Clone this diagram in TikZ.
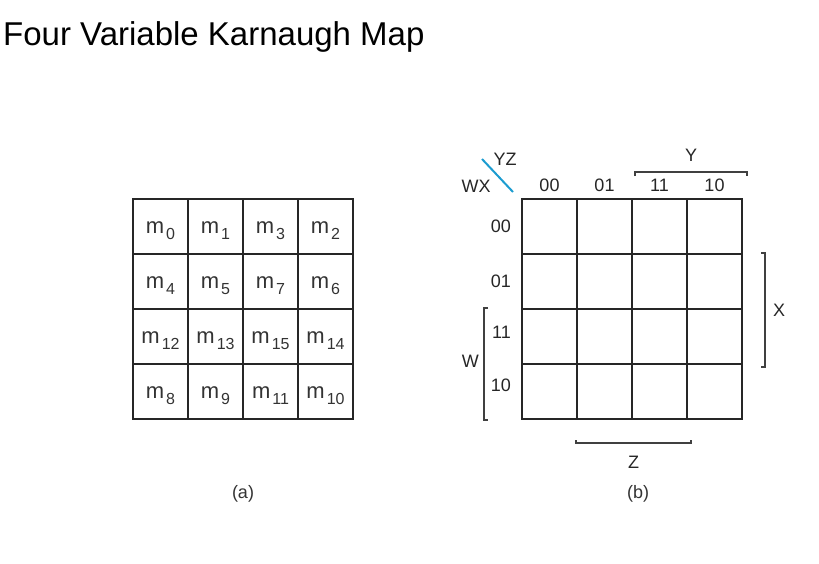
\documentclass[tikz,border=0pt]{standalone}
\usepackage{fontspec}
\setmainfont{Liberation Sans}
\usetikzlibrary{positioning,calc}
\definecolor{kblue}{RGB}{28,156,208}
\tikzset{
  cellbox/.style={draw=black!85,line width=2pt,minimum size=55pt,inner sep=0pt},
  mint/.style={font=\fontsize{22}{24}\selectfont,text=black!80,text height=16pt,text depth=2pt},
  lbl/.style={font=\fontsize{18}{20}\selectfont,inner sep=1pt,text=black!85},
  ttl/.style={font=\fontsize{33}{36}\selectfont,inner sep=0pt},
  capt/.style={font=\fontsize{18}{20}\selectfont,inner sep=1pt,text=black!80},
  brk/.style={draw=black!75,line width=1.3pt},
  diag/.style={draw=kblue,line width=2pt}
}
\newcommand{\mterm}[1]{m\raisebox{-6pt}{\fontsize{16}{16}\selectfont\hspace{2pt}#1}}

\begin{document}
\begin{tikzpicture}[x=1pt,y=-1pt]
  \useasboundingbox (0,0) rectangle (819,563);
  % Title
  \node[ttl, anchor=base west] (title) at (3,45) {Four Variable Karnaugh Map};

  % Minterm map (a)
  \foreach \m [count=\i from 0] in {0,1,3,2,4,5,7,6,12,13,15,14,8,9,11,10} {
    \pgfmathtruncatemacro{\c}{mod(\i,4)}
    \pgfmathtruncatemacro{\r}{div(\i,4)}
    \node[cellbox, mint] (a\i) at (160.5+55*\c, 226.5+55*\r) {\mterm{\m}};
  }
  \node[capt] (capa) at (243,494) {(a)};

  % Variable map (b)
  \foreach \i in {0,...,15} {
    \pgfmathtruncatemacro{\c}{mod(\i,4)}
    \pgfmathtruncatemacro{\r}{div(\i,4)}
    \node[cellbox] (b\i) at (549.5+55*\c, 226.5+55*\r) {};
  }
  \node[capt] (capb) at (638,494) {(b)};

  % Column and row labels
  \foreach \lab [count=\c from 0] in {00,01,11,10}
    \node[lbl, above=5pt of b\c] (col\c) {\lab};
  \node[lbl, left=9pt of b0] (row0) {00};
  \node[lbl, left=9pt of b4] (row1) {01};
  \node[lbl, left=9pt of b8, yshift=4pt] (row2) {11};
  \node[lbl, left=9pt of b12, yshift=6pt] (row3) {10};

  % Corner
  \node[lbl] (yz) at (505,159) {YZ};
  \node[lbl] (wx) at (476,186) {WX};
  \coordinate (d1) at (482,159);
  \coordinate (d2) at (513,192);
  \draw[diag] (d1) -- (d2);

  % Y over last two columns
  \coordinate (y1) at ([yshift=26pt,xshift=4pt]b2.north west);
  \coordinate (y2) at ([yshift=26pt,xshift=4pt]b3.north east);
  \draw[brk] ([yshift=-4pt]y1) -- (y1) -- (y2) -- ([yshift=-4pt]y2);
  \node[lbl, above=9pt] (ylab) at ($(y1)!.5!(y2)$) {Y};

  % X along rows 01 and 11
  \coordinate (x1) at ([xshift=22pt]b7.north east);
  \coordinate (x2) at ([xshift=22pt,yshift=-2pt]b11.south east);
  \draw[brk] ([xshift=-4pt]x1) -- (x1) -- (x2) -- ([xshift=-4pt]x2);
  \node[lbl, right=7pt] (xlab) at ($(x1)!.5!(x2)$) {X};

  % W along rows 11 and 10
  \coordinate (w1) at ([xshift=-37pt]b8.north west);
  \coordinate (w2) at ([xshift=-37pt]b12.south west);
  \draw[brk] ([xshift=4pt]w1) -- (w1) -- (w2) -- ([xshift=4pt]w2);
  \node[lbl, left=4pt, yshift=3pt] (wlab) at ($(w1)!.5!(w2)$) {W};

  % Z under middle columns
  \coordinate (z1) at ([yshift=-23pt]b13.south west);
  \coordinate (z2) at ([yshift=-23pt,xshift=3pt]b14.south east);
  \draw[brk] ([yshift=3pt]z1) -- (z1) -- (z2) -- ([yshift=3pt]z2);
  \node[lbl, below=12pt] (zlab) at ($(z1)!.5!(z2)$) {Z};
\end{tikzpicture}
\end{document}
